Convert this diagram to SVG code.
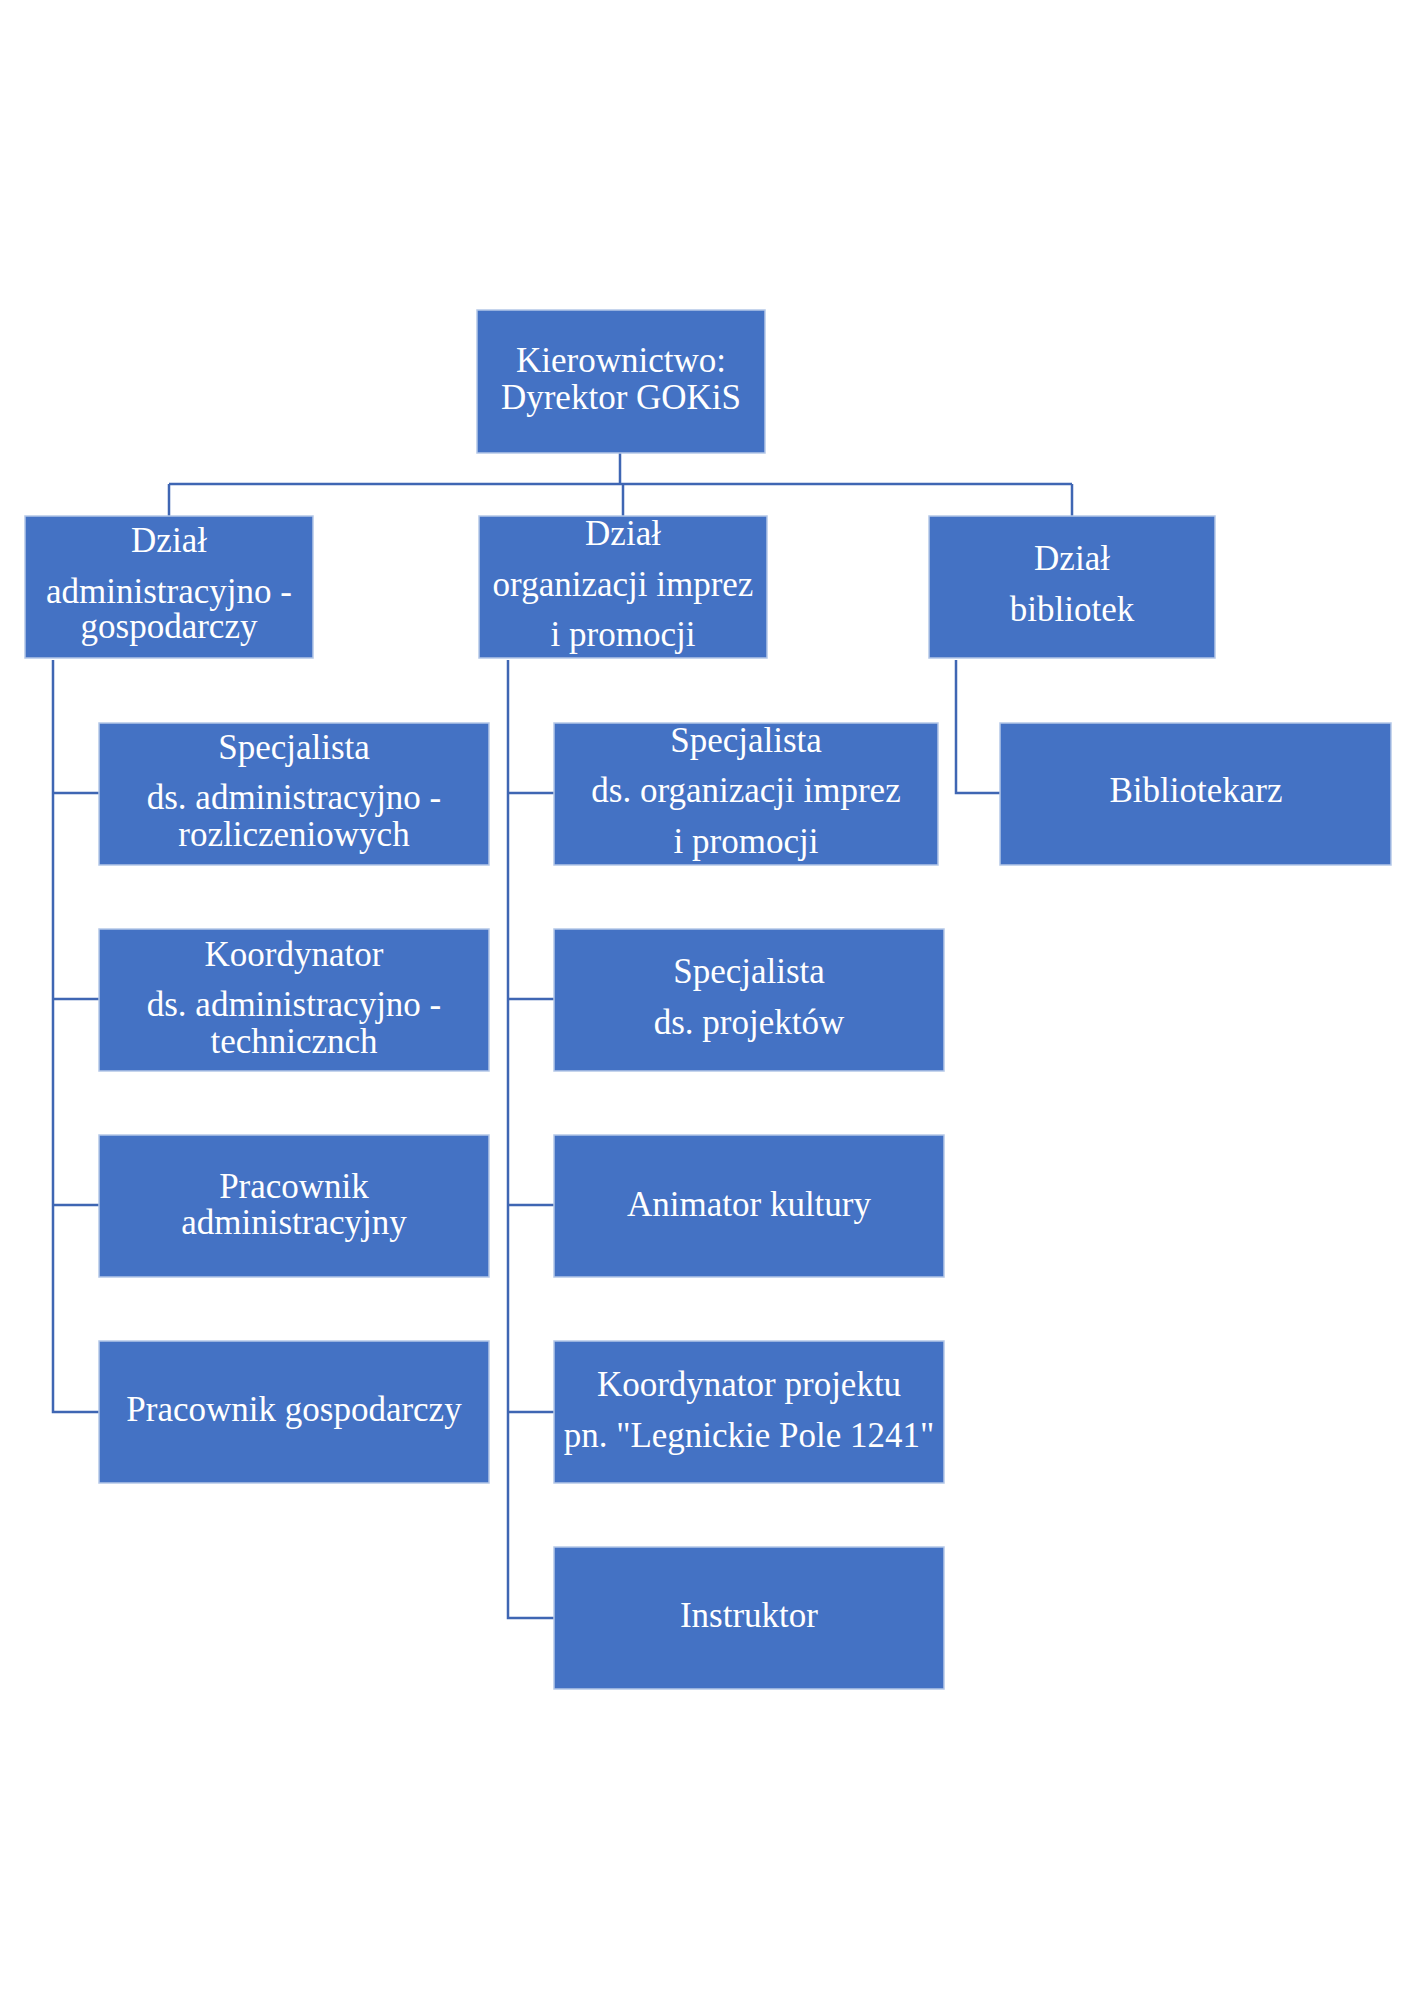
<svg xmlns="http://www.w3.org/2000/svg" width="1414" height="2000" viewBox="0 0 1414 2000">
<style>
.box{fill:#4472C4;stroke:#B4C7E7;stroke-width:1.5}
.t{font-family:"Liberation Serif","Times New Roman",serif;font-size:35px;fill:#FFFFFF;text-anchor:middle}
.c{fill:none;stroke:#3F66B3;stroke-width:2.5}
</style>
<rect x="0" y="0" width="1414" height="2000" fill="#FFFFFF"/>
<g id="connectors">
<path class="c" d="M620 453V484M169 484H1072M169 484V516M623 484V516M1072 484V516"/>
<path class="c" d="M53 660V1412H99M53 793H99M53 999H99M53 1205H99"/>
<path class="c" d="M508 660V1618H554M508 793H554M508 999H554M508 1205H554M508 1412H554"/>
<path class="c" d="M956 660V793H1000"/>
</g>
<g id="n-kierownictwo">
<rect class="box" x="477" y="310" width="288" height="143"/>
<text class="t" x="621" y="372">Kierownictwo:</text>
<text class="t" x="621" y="409">Dyrektor GOKiS</text>
</g>
<g id="n-dzial-admin">
<rect class="box" x="25" y="516" width="288" height="142"/>
<text class="t" x="169" y="552">Dział</text>
<text class="t" x="169" y="603">administracyjno -</text>
<text class="t" x="169" y="638">gospodarczy</text>
</g>
<g id="n-dzial-imprez">
<rect class="box" x="479" y="516" width="288" height="142"/>
<text class="t" x="623" y="545">Dział</text>
<text class="t" x="623" y="596">organizacji imprez</text>
<text class="t" x="623" y="646">i promocji</text>
</g>
<g id="n-dzial-bibliotek">
<rect class="box" x="929" y="516" width="286" height="142"/>
<text class="t" x="1072" y="570">Dział</text>
<text class="t" x="1072" y="621">bibliotek</text>
</g>
<g id="n-spec-admin">
<rect class="box" x="99" y="723" width="390" height="142"/>
<text class="t" x="294" y="759">Specjalista</text>
<text class="t" x="294" y="809">ds. administracyjno -</text>
<text class="t" x="294" y="846">rozliczeniowych</text>
</g>
<g id="n-koord-admin">
<rect class="box" x="99" y="929" width="390" height="142"/>
<text class="t" x="294" y="966">Koordynator</text>
<text class="t" x="294" y="1016">ds. administracyjno -</text>
<text class="t" x="294" y="1053">technicznch</text>
</g>
<g id="n-prac-admin">
<rect class="box" x="99" y="1135" width="390" height="142"/>
<text class="t" x="294" y="1198">Pracownik</text>
<text class="t" x="294" y="1234">administracyjny</text>
</g>
<g id="n-prac-gosp">
<rect class="box" x="99" y="1341" width="390" height="142"/>
<text class="t" x="294" y="1421">Pracownik gospodarczy</text>
</g>
<g id="n-spec-imprez">
<rect class="box" x="554" y="723" width="384" height="142"/>
<text class="t" x="746" y="752">Specjalista</text>
<text class="t" x="746" y="802">ds. organizacji imprez</text>
<text class="t" x="746" y="853">i promocji</text>
</g>
<g id="n-spec-proj">
<rect class="box" x="554" y="929" width="390" height="142"/>
<text class="t" x="749" y="983">Specjalista</text>
<text class="t" x="749" y="1034">ds. projektów</text>
</g>
<g id="n-animator">
<rect class="box" x="554" y="1135" width="390" height="142"/>
<text class="t" x="749" y="1216">Animator kultury</text>
</g>
<g id="n-koord-proj">
<rect class="box" x="554" y="1341" width="390" height="142"/>
<text class="t" x="749" y="1396">Koordynator projektu</text>
<text class="t" x="749" y="1447">pn. "Legnickie Pole 1241"</text>
</g>
<g id="n-instruktor">
<rect class="box" x="554" y="1547" width="390" height="142"/>
<text class="t" x="749" y="1627">Instruktor</text>
</g>
<g id="n-bibliotekarz">
<rect class="box" x="1000" y="723" width="391" height="142"/>
<text class="t" x="1196" y="802">Bibliotekarz</text>
</g>
</svg>
